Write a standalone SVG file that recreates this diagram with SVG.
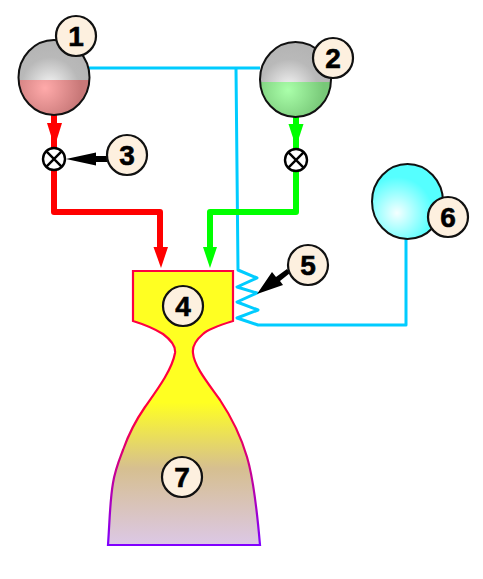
<svg xmlns="http://www.w3.org/2000/svg" width="483" height="579" viewBox="0 0 483 579">
<style>
.pipe{fill:none;stroke-linejoin:round}
.cy{stroke:#00ccff;stroke-width:3}
.r{stroke:#ff0000;stroke-width:6}
.g{stroke:#00ff00;stroke-width:6}
.tank{stroke:#111;stroke-width:2;fill:none}
.lbl circle{fill:#fdf0df;stroke:#111;stroke-width:2.200}
.lbl text{font-family:"Liberation Sans",Arial,sans-serif;font-weight:700;font-size:28px;fill:#000;stroke:#000;stroke-width:0.600;text-anchor:middle}
.valve circle{fill:#fff;stroke:#000;stroke-width:2.400}
.valve path{stroke:#000;stroke-width:2.400;fill:none}
.ptr{fill:#000}
</style>
<defs>
<radialGradient id="gas1" gradientUnits="userSpaceOnUse" cx="50" cy="86" r="44"><stop offset="0" stop-color="#f4f4f4"/><stop offset="0.65" stop-color="#b9b9b9"/><stop offset="1" stop-color="#b4b4b4"/></radialGradient>
<radialGradient id="gas2" gradientUnits="userSpaceOnUse" cx="289" cy="88" r="44"><stop offset="0" stop-color="#f4f4f4"/><stop offset="0.65" stop-color="#b9b9b9"/><stop offset="1" stop-color="#b4b4b4"/></radialGradient>
<radialGradient id="liq1" gradientUnits="userSpaceOnUse" cx="45" cy="88" r="36"><stop offset="0" stop-color="#ffaaaa"/><stop offset="1" stop-color="#c87878"/></radialGradient>
<radialGradient id="liq2" gradientUnits="userSpaceOnUse" cx="288" cy="90" r="36"><stop offset="0" stop-color="#aaffaa"/><stop offset="1" stop-color="#78c878"/></radialGradient>
<radialGradient id="cyan" gradientUnits="userSpaceOnUse" cx="397" cy="213" r="36"><stop offset="0" stop-color="#f4ffff"/><stop offset="1" stop-color="#55ffff"/></radialGradient>
<linearGradient id="nf" gradientUnits="userSpaceOnUse" x1="0" y1="271" x2="0" y2="545"><stop offset="0.48" stop-color="#ffff22"/><stop offset="0.72" stop-color="#d6bf90"/><stop offset="1" stop-color="#dcc8e6"/></linearGradient>
<linearGradient id="ns" gradientUnits="userSpaceOnUse" x1="0" y1="271" x2="0" y2="545"><stop offset="0.52" stop-color="#ff0040"/><stop offset="1" stop-color="#8000ff"/></linearGradient>
<clipPath id="c1"><rect x="0" y="30" width="120" height="50"/></clipPath>
<clipPath id="c2"><rect x="0" y="80" width="120" height="50"/></clipPath>
<clipPath id="c3"><rect x="250" y="30" width="100" height="52"/></clipPath>
<clipPath id="c4"><rect x="250" y="82" width="100" height="50"/></clipPath>
</defs>
<g id="connectors">
<path class="pipe cy" d="M89 68H260M236 68L238 270L257 278L237 287L257 293L237 302L258 310L237 318L258 325H406V238"/>
<path class="pipe r" d="M54 115V159M54 159V212H160V250"/>
<path class="pipe g" d="M296 117V160M296 160V212H210V250"/>
<path fill="#ff0000" d="M47 123H62L54.500 147Z"/>
<path fill="#ff0000" d="M153.500 247H168L161 268Z"/>
<path fill="#00ff00" d="M288.500 124H303.500L296 147Z"/>
<path fill="#00ff00" d="M203 247H217L210 268Z"/>
<path class="ptr" d="M66 159L96 152.500V156H107V162H96V165.500Z"/>
<path class="ptr" d="M257 294L272 272L276 277L287 269L290 273L280 281L283 285Z"/>
</g>
<g id="nozzle-4">
<path d="M133 271H233V321C220 325 208 329 203 334C196 340 192 346 193 353C194 366 208 383 220 400C232 418 242 440 247 457C253 477 257 510 260 545H108C110 515 110 500 113 483C115 470 118 463 123 450C129 433 136 420 145 407C157 390 172 370 175 353C176 346 171 340 163 334C155 329 146 325 133 321Z" fill="url(#nf)" stroke="url(#ns)" stroke-width="2.200"/>
</g>
<g id="tank-1">
<ellipse cx="54" cy="77.500" rx="35.500" ry="37.500" fill="url(#gas1)" clip-path="url(#c1)"/>
<ellipse cx="54" cy="77.500" rx="35.500" ry="37.500" fill="url(#liq1)" clip-path="url(#c2)"/>
<ellipse class="tank" cx="54" cy="77.500" rx="35.500" ry="37.500"/>
</g>
<g id="tank-2">
<ellipse cx="295.500" cy="79.500" rx="35.500" ry="37.500" fill="url(#gas2)" clip-path="url(#c3)"/>
<ellipse cx="295.500" cy="79.500" rx="35.500" ry="37.500" fill="url(#liq2)" clip-path="url(#c4)"/>
<ellipse class="tank" cx="295.500" cy="79.500" rx="35.500" ry="37.500"/>
</g>
<g id="tank-6">
<ellipse cx="407.500" cy="201.500" rx="35.500" ry="37.500" fill="url(#cyan)" stroke="#111" stroke-width="2"/>
</g>
<g id="valve-1" class="valve">
<circle cx="54" cy="159" r="11"/><path d="M46.200 151.200L61.800 166.800M61.800 151.200L46.200 166.800"/>
</g>
<g id="valve-2" class="valve">
<circle cx="296" cy="160" r="11"/><path d="M288.200 152.200L303.800 167.800M303.800 152.200L288.200 167.800"/>
</g>
<g id="label-1" class="lbl"><circle cx="76" cy="36" r="20"/><text x="76" y="46">1</text></g>
<g id="label-2" class="lbl"><circle cx="333" cy="58" r="20"/><text x="333" y="68">2</text></g>
<g id="label-3" class="lbl"><circle cx="127" cy="155" r="20"/><text x="127" y="165">3</text></g>
<g id="label-4" class="lbl"><circle cx="183" cy="306" r="20"/><text x="183" y="316">4</text></g>
<g id="label-5" class="lbl"><circle cx="308" cy="265" r="20"/><text x="308" y="275">5</text></g>
<g id="label-6" class="lbl"><circle cx="448" cy="217" r="20"/><text x="448" y="227">6</text></g>
<g id="label-7" class="lbl"><circle cx="182" cy="477" r="20"/><text x="182" y="487">7</text></g>
</svg>
